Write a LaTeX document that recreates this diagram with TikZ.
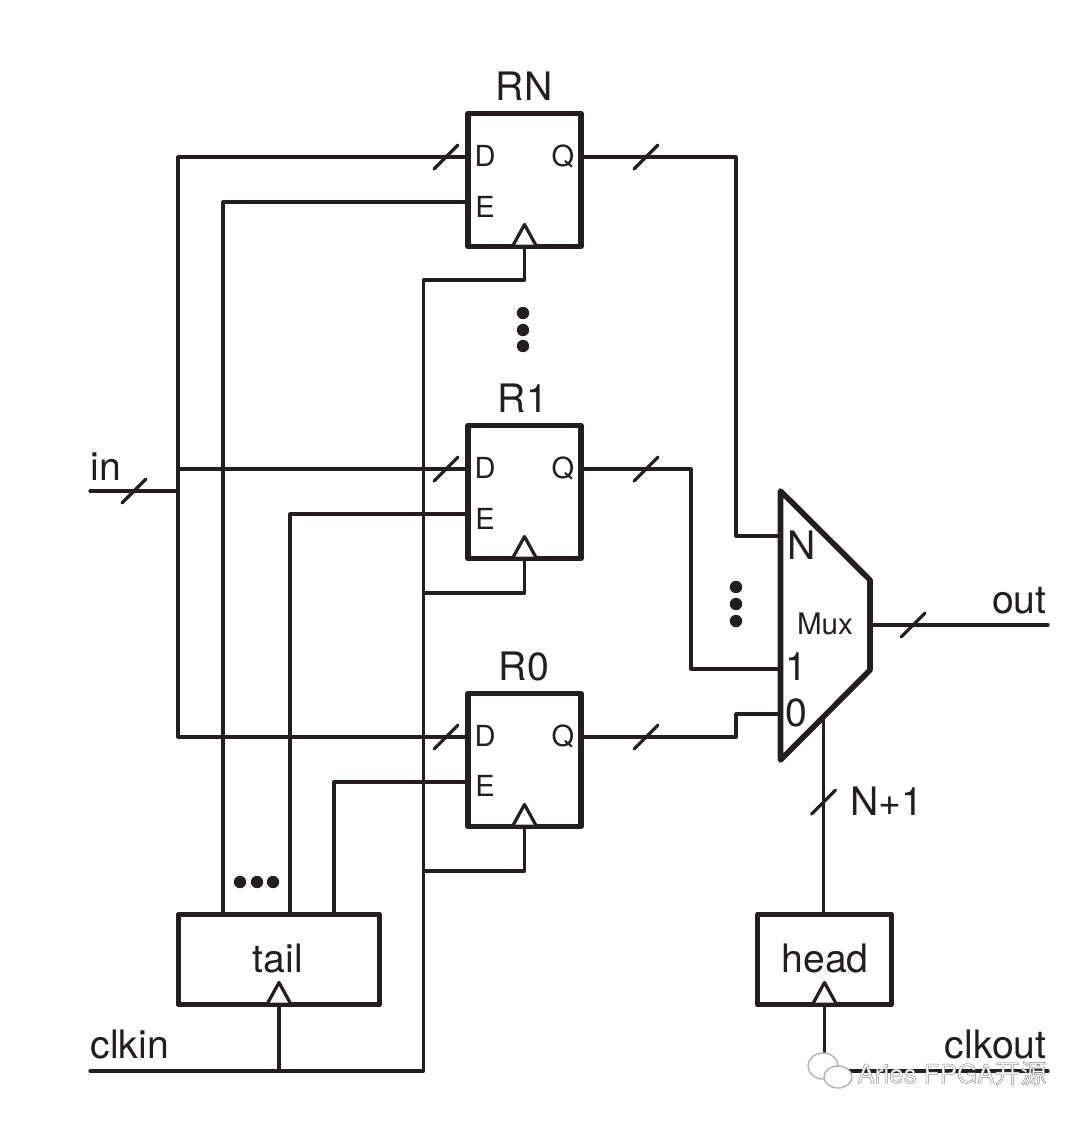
\documentclass[tikz,border=0pt]{standalone}
\usepackage{fontspec}
\setmainfont{TeX Gyre Heros}
\newfontfamily\cjkfont{Noto Sans CJK SC}
\usetikzlibrary{positioning}

\definecolor{inkblack}{HTML}{231F20}

\begin{document}
\begin{tikzpicture}[x=0.5pt,y=-0.5pt,inkblack]
	\tikzset{wire/.style={draw=inkblack,line width=1.6pt,line join=round,line cap=round}}
	\tikzset{heavy/.style={draw=inkblack,line width=2.8pt,line join=round}}
	\tikzset{regbox/.style={heavy,rectangle,outer sep=0pt,inner sep=0pt,minimum width=56.5pt,minimum height=66.5pt}}
	\tikzset{ctrbox/.style={heavy,rectangle,outer sep=0pt,inner sep=0pt,minimum height=45pt}}
	\tikzset{bigtext/.style={inner sep=0pt,anchor=base,font=\fontsize{19.6}{21}\selectfont}}
	\tikzset{pintext/.style={inner sep=0pt,anchor=base,font=\fontsize{14.5}{16}\selectfont}}
	\tikzset{dot/.style={circle,fill=inkblack,inner sep=0pt,minimum size=6.2pt}}
	\tikzset{clktri/.pic={\draw[wire,fill=white] (-11,-2) -- (0,-22) -- (11,-2);}}
	\tikzset{busmark/.pic={\draw[wire] (-12,12) -- (12,-12);}}
	\useasboundingbox (0,0) rectangle (1080,1121);

	% registers
	\node[regbox] (rn) at (524.5,180) {};
	\node[regbox] (r1) at (524.5,492) {};
	\node[regbox] (r0) at (524.5,760) {};
	\node[bigtext] (rnname) at (524,100) {RN};
	\node[bigtext] (r1name) at (523,412) {R1};
	\node[bigtext] (r0name) at (524,680) {R0};
	\node[pintext] (rnD) at (485,166) {D};
	\node[pintext] (rnE) at (485,217) {E};
	\node[pintext] (rnQ) at (563,166) {Q};
	\node[pintext] (r1D) at (485,478) {D};
	\node[pintext] (r1E) at (485,529) {E};
	\node[pintext] (r1Q) at (563,478) {Q};
	\node[pintext] (r0D) at (485,746) {D};
	\node[pintext] (r0E) at (485,796) {E};
	\node[pintext] (r0Q) at (563,746) {Q};

	% pointers
	\node[ctrbox,minimum width=100.5pt] (tail) at (279,959.5) {};
	\node[ctrbox,minimum width=67pt] (head) at (824.5,959.5) {};
	\node[bigtext] (tailname) at (278,972) {tail};
	\node[bigtext] (headname) at (825,972) {head};

	% mux outline
	\coordinate (muxtop) at (780.5,491);
	\coordinate (muxbot) at (780.5,760);
	\coordinate (muxN) at (780.5,536);
	\coordinate (mux1) at (780.5,669);
	\coordinate (mux0) at (780.5,714);
	\coordinate (muxout) at (870,625);
	\coordinate (muxsel) at (823.5,716);
	\draw[heavy] (muxtop) -- (870,580) -- (870,670) -- (muxbot) -- cycle;
	\node[pintext,font=\fontsize{14.8}{16}\selectfont] (muxname) at (825,634) {Mux};
	\node[bigtext] (muxNtext) at (802,559) {N};
	\node[bigtext] (mux1text) at (796,680) {1};
	\node[bigtext] (mux0text) at (796,726) {0};

	% data bus
	\coordinate (inL) at (90,491);
	\coordinate (inJ) at (178,491);
	\draw[wire] (inL) -- (inJ);
	\draw[wire] (r0.west |- 0,737) -| (inJ) |- (rn.west |- 0,157);
	\draw[wire] (inJ |- 0,469) -- (r1.west |- 0,469);
	\node[bigtext,anchor=base west] (intext) at (90,480) {in};

	% enables
	\draw[wire] (tail.north -| 223,0) |- (rn.west |- 0,202);
	\draw[wire] (tail.north -| 290,0) |- (r1.west |- 0,514);
	\draw[wire] (tail.north -| 334,0) |- (r0.west |- 0,782);

	% clocks
	\coordinate (clkL) at (90,1071);
	\coordinate (clkJ) at (423.5,1071);
	\draw[wire] (clkL) -- (clkJ) -- (clkJ |- 0,280) -| (rn.south);
	\draw[wire] (clkJ |- 0,593) -| (r1.south);
	\draw[wire] (clkJ |- 0,871) -| (r0.south);
	\draw[wire] (tail.south) -- (tail.south |- clkL);
	\pic at (rn.south) {clktri};
	\pic at (r1.south) {clktri};
	\pic at (r0.south) {clktri};
	\pic at (tail.south) {clktri};
	\node[bigtext,anchor=base west] (clkintext) at (90,1058) {clkin};
	\coordinate (clkR) at (1048,1071);
	\draw[wire] (head.south) -- (head.south |- clkR) -- (clkR);
	\pic at (head.south) {clktri};
	\node[bigtext,anchor=base east] (clkouttext) at (1047,1058) {clkout};

	% register outputs to mux
	\draw[wire] (rn.east |- 0,157) -| (736,536) -- (muxN);
	\draw[wire] (r1.east |- 0,469) -| (691,669) -- (mux1);
	\draw[wire] (r0.east |- 0,737) -| (736,714) -- (mux0);
	\draw[wire] (muxsel) -- (muxsel |- head.north);
	\coordinate (outR) at (1048,625);
	\draw[wire] (muxout) -- (outR);
	\node[bigtext,anchor=base east] (outtext) at (1047,613) {out};
	\node[bigtext,anchor=base west] (seltext) at (850,815) {N+1};

	% bus width marks
	\pic at (446,157) {busmark};
	\pic at (646,157) {busmark};
	\pic at (446,469) {busmark};
	\pic at (646,469) {busmark};
	\pic at (446,737) {busmark};
	\pic at (646,737) {busmark};
	\pic at (134,491) {busmark};
	\pic at (913,625) {busmark};
	\pic at (823.5,802) {busmark};

	% ellipsis dots
	\node[dot] (vdotA) at (523,313) {};
	\node[dot] (vdotB) at (523,330) {};
	\node[dot] (vdotC) at (523,346) {};
	\node[dot] (mdotA) at (736,587) {};
	\node[dot] (mdotB) at (736,604) {};
	\node[dot] (mdotC) at (736,621) {};
	\node[dot] (tdotA) at (240,882) {};
	\node[dot] (tdotB) at (257,882) {};
	\node[dot] (tdotC) at (273,882) {};

	% mark in the lower corner
	\draw[gray!60,fill=white,line width=0.7pt] (823,1066) ellipse (15 and 13);
	\draw[gray!60,fill=white,line width=0.7pt] (838,1077) ellipse (14 and 11);
	\node[inner sep=0pt,anchor=base west,text=white,font=\fontsize{13}{14}\selectfont] (wmtext) at (857,1083)
		{\special{pdf:code q 2 Tr 0.25 w 0.55 G}Aries FPGA{\cjkfont 开源}\special{pdf:code Q}};
\end{tikzpicture}
\end{document}
